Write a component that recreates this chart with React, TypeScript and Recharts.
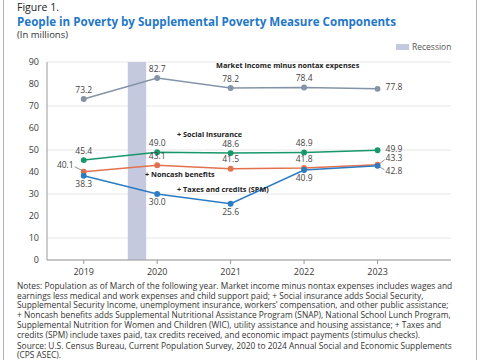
import { LineChart, Line, XAxis, YAxis, CartesianGrid, ReferenceArea } from "recharts";

const years = [2019, 2020, 2021, 2022, 2023];
const marketIncome = [73.2, 82.7, 78.2, 78.4, 77.8];
const socialInsurance = [45.4, 49.0, 48.6, 48.9, 49.9];
const noncashBenefits = [40.1, 43.1, 41.5, 41.8, 43.3];
const taxesCredits = [38.3, 30.0, 25.6, 40.9, 42.8];
const yTicks = [0, 10, 20, 30, 40, 50, 60, 70, 80, 90];
const recession = [2019.6, 2019.85];

const noteLines = [
  "Notes: Population as of March of the following year. Market income minus nontax expenses includes wages and",
  "earnings less medical and work expenses and child support paid; + Social insurance adds Social Security,",
  "Supplemental Security Income, unemployment insurance, workers\u2019 compensation, and other public assistance;",
  "+ Noncash benefits adds Supplemental Nutritional Assistance Program (SNAP), National School Lunch Program,",
  "Supplemental Nutrition for Women and Children (WIC), utility assistance and housing assistance;  + Taxes and",
  "credits (SPM) include taxes paid, tax credits received, and economic impact payments (stimulus checks).",
];
const sourceLines = [
  "Source: U.S. Census Bureau, Current Population Survey, 2020 to 2024 Annual Social and Economic Supplements",
  "(CPS ASEC).",
];

const data = years.map((year, i) => ({
  year,
  market: marketIncome[i],
  social: socialInsurance[i],
  noncash: noncashBenefits[i],
  taxes: taxesCredits[i],
}));

const FONT = "'Open Sans', Lato, sans-serif";
const TEXT = "#3a3a3a";

// where each value label sits relative to its point
type Pos = "above" | "below" | "right" | "rightUp" | "rightDown" | "leftUp";
const labelPos: Record<string, Pos[]> = {
  market: ["above", "above", "above", "above", "right"],
  social: ["above", "above", "above", "above", "right"],
  noncash: ["leftUp", "above", "above", "above", "rightUp"],
  taxes: ["below", "below", "below", "below", "rightDown"],
};

const makeLabel = (key: string) => (props: any) => {
  const { x, y, value, index } = props;
  const pos = labelPos[key][index];
  const txt = Number(value).toFixed(1);
  const common = { fontSize: 8.5, fill: "#444", fontFamily: FONT };
  if (pos === "above")
    return <text key={key + index} x={x} y={y - 8.5} textAnchor="middle" dominantBaseline="middle" {...common}>{txt}</text>;
  if (pos === "below")
    return <text key={key + index} x={x} y={y + 9} textAnchor="middle" dominantBaseline="middle" {...common}>{txt}</text>;
  if (pos === "right")
    return <text key={key + index} x={x + 8} y={y - 1} textAnchor="start" dominantBaseline="middle" {...common}>{txt}</text>;
  if (pos === "rightUp")
    return (
      <g key={key + index}>
        <line x1={x + 2} y1={y - 1} x2={x + 7} y2={y - 5} stroke="#666" strokeWidth={0.7} />
        <text x={x + 8} y={y - 6} textAnchor="start" dominantBaseline="middle" {...common}>{txt}</text>
      </g>
    );
  if (pos === "rightDown")
    return (
      <g key={key + index}>
        <line x1={x + 2} y1={y + 1} x2={x + 7} y2={y + 4} stroke="#666" strokeWidth={0.7} />
        <text x={x + 8} y={y + 6} textAnchor="start" dominantBaseline="middle" {...common}>{txt}</text>
      </g>
    );
  return (
    <g key={key + index}>
      <line x1={x - 1} y1={y - 1} x2={x - 9} y2={y - 5} stroke="#666" strokeWidth={0.7} />
      <text x={x - 10} y={y - 6} textAnchor="end" dominantBaseline="middle" {...common}>{txt}</text>
    </g>
  );
};

const seriesNote = (text: string, left: number, centerY: number) => (
  <div
    style={{
      position: "absolute",
      left,
      top: centerY - 4,
      fontSize: 7.3,
      fontWeight: 700,
      color: "#222",
      fontFamily: FONT,
      whiteSpace: "nowrap",
      lineHeight: "8px",
    }}
  >
    {text}
  </div>
);

export default function App() {
  return (
    <div
      style={{
        position: "fixed",
        left: 0,
        top: 0,
        width: 480,
        height: 360,
        background: "#fff",
        fontFamily: FONT,
        overflow: "hidden",
      }}
    >
      <div style={{ position: "absolute", left: 3, top: 0, width: 472, height: 360, borderLeft: "1.5px solid #a9b3cf", borderRight: "1.5px solid #a9b3cf" }} />
      <div style={{ position: "absolute", left: 17, top: 2, fontSize: 10.5, color: "#222", lineHeight: "11px" }}>Figure 1.</div>
      <div style={{ position: "absolute", left: 17, top: 15.5, fontSize: 11.6, fontWeight: 700, color: "#1f78c8", lineHeight: "12px", whiteSpace: "nowrap" }}>
        People in Poverty by Supplemental Poverty Measure Components
      </div>
      <div style={{ position: "absolute", left: 17, top: 29, fontSize: 9.5, color: "#333", lineHeight: "11px" }}>(In millions)</div>

      <div style={{ position: "absolute", left: 396, top: 44, width: 13, height: 6, background: "#c5c9df" }} />
      <div style={{ position: "absolute", left: 412, top: 41, fontSize: 8.5, color: "#555", lineHeight: "11px" }}>Recession</div>

      <div style={{ position: "absolute", left: 0, top: 0 }}>
        <LineChart width={480} height={300} data={data} margin={{ top: 62, right: 29, left: 17, bottom: 10 }}>
          <CartesianGrid vertical={false} stroke="#e6e6e6" />
          <XAxis
            dataKey="year"
            type="number"
            domain={[2018.5, 2023.5]}
            ticks={years}
            height={30}
            stroke="#999"
            tickSize={4}
            tickMargin={5}
            tick={{ fontSize: 9, fill: TEXT, fontFamily: FONT }}
            allowDecimals={false}
          />
          <YAxis
            domain={[0, 90]}
            ticks={yTicks}
            width={30}
            stroke="#999"
            tickLine={false}
            tick={{ fontSize: 9, fill: TEXT, fontFamily: FONT }}
          />
          <ReferenceArea x1={recession[0]} x2={recession[1]} y1={0} y2={90} fill="#c5c9df" fillOpacity={1} stroke="none" />
          <Line dataKey="market" stroke="#8494a6" strokeWidth={1.5} dot={{ r: 2.2, fill: "#8494a6", stroke: "#8494a6" }} isAnimationActive={false} label={makeLabel("market")} />
          <Line dataKey="social" stroke="#17976a" strokeWidth={1.5} dot={{ r: 2.2, fill: "#17976a", stroke: "#17976a" }} isAnimationActive={false} label={makeLabel("social")} />
          <Line dataKey="noncash" stroke="#e2714f" strokeWidth={1.5} dot={{ r: 2.2, fill: "#e2714f", stroke: "#e2714f" }} isAnimationActive={false} label={makeLabel("noncash")} />
          <Line dataKey="taxes" stroke="#2b7cc4" strokeWidth={1.5} dot={{ r: 2.2, fill: "#2b7cc4", stroke: "#2b7cc4" }} isAnimationActive={false} label={makeLabel("taxes")} />
        </LineChart>
      </div>

      {seriesNote("Market income minus nontax expenses", 216, 65)}
      {seriesNote("+ Social insurance", 177, 134)}
      {seriesNote("+ Noncash benefits", 145, 174)}
      {seriesNote("+ Taxes and credits (SPM)", 177, 189)}

      <div style={{ position: "absolute", left: 17, top: 281, fontSize: 8.4, color: "#333", lineHeight: "9.7px", whiteSpace: "nowrap" }}>
        {noteLines.map((l) => (
          <div key={l}>{l}</div>
        ))}
        <div style={{ height: 1.5 }} />
        {sourceLines.map((l) => (
          <div key={l}>{l}</div>
        ))}
      </div>
    </div>
  );
}
